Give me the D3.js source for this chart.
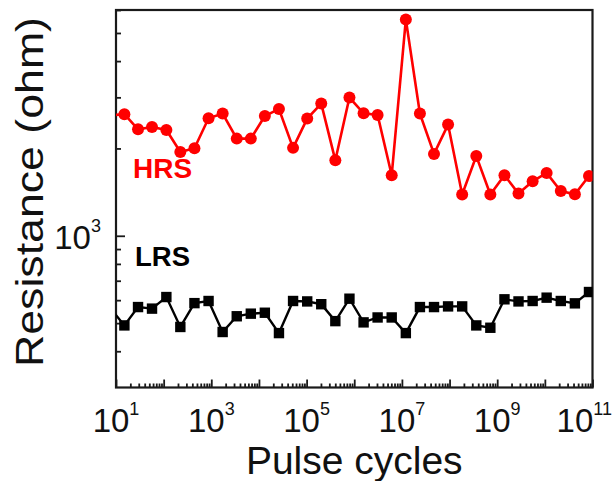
<!DOCTYPE html>
<html>
<head>
<meta charset="utf-8">
<script src="https://cdn.jsdelivr.net/npm/d3@7/dist/d3.min.js"></script>
<style>
  html, body { margin: 0; padding: 0; background: #fff; }
  svg { display: block; font-family: "Liberation Sans", Arial, sans-serif; }
</style>
</head>
<body>
<svg id="chart" width="615" height="481"></svg>
<script>
// Pulse cycle count at each measurement (log-spaced)
const pulseCycles = [7.4, 15, 29, 57, 114, 224, 443, 876, 1730, 3420, 6750,
  1.33e4, 2.63e4, 5.2e4, 1.03e5, 2.03e5, 4.01e5, 7.93e5, 1.57e6, 3.09e6, 6.11e6,
  1.21e7, 2.39e7, 4.72e7, 9.31e7, 1.84e8, 3.64e8, 7.18e8, 1.42e9, 2.8e9, 5.54e9,
  1.09e10, 2.16e10, 4.27e10, 8.44e10];

// High-resistance state (ohm)
const hrsValues = [2600, 2624, 2328, 2371, 2316, 1945, 2004, 2542, 2637, 2162, 2162,
  2587, 2736, 2009, 2535, 2855, 1820, 2995, 2644, 2610, 1617,
  5566, 2637, 1915, 2417, 1387, 1884, 1387, 1617, 1398, 1541,
  1647, 1427, 1390, 1607];

// Low-resistance state (ohm)
const lrsValues = [566, 491, 568, 561, 615, 485, 586, 596, 466, 528, 539,
  543, 462, 596, 594, 581, 508, 607, 503, 523, 523,
  462, 568, 568, 571, 571, 491, 482, 604, 594, 596,
  612, 596, 585, 640];

const xMajorTicks = [1e1, 1e2, 1e3, 1e4, 1e5, 1e6, 1e7, 1e8, 1e9, 1e10, 1e11];
const xLabelExponents = [1, 3, 5, 7, 9, 11];
const yMajorTicks = [1e3];
const yLabelExponents = [3];
const yMinorTicks = [400, 500, 600, 700, 800, 900, 2000, 3000, 4000, 5000, 6000];

const xTitle = "Pulse cycles";
const yTitle = "Resistance (ohm)";

const svg = d3.select("#chart");
const plotLeft = 116, plotRight = 592.5, plotTop = 10, plotBottom = 387.5;

const x = d3.scaleLog().domain([10, 1e11]).range([plotLeft, plotRight]);
const y = d3.scaleLog().domain([300, 6000]).range([plotBottom, plotTop]);

// Minor x ticks: 2..9 within each decade
const xMinorTicks = [];
xMajorTicks.slice(0, -1).forEach(d => {
  for (let k = 2; k <= 9; k++) xMinorTicks.push(d * k);
});

svg.append("clipPath").attr("id", "plot-clip")
  .append("rect").attr("x", plotLeft).attr("y", plotTop)
  .attr("width", plotRight - plotLeft).attr("height", plotBottom - plotTop);

const axisColor = "#1a1a1a";

// Bottom axis: ticks point into the plot
const gxMinor = svg.append("g").attr("transform", `translate(0,${plotBottom})`)
  .call(d3.axisBottom(x).tickValues(xMinorTicks).tickSize(-4).tickFormat(""));
const gx = svg.append("g").attr("transform", `translate(0,${plotBottom})`)
  .call(d3.axisBottom(x).tickValues(xMajorTicks).tickSize(-8).tickFormat(""));

// Left axis
const gyMinor = svg.append("g").attr("transform", `translate(${plotLeft},0)`)
  .call(d3.axisLeft(y).tickValues(yMinorTicks).tickSize(-5).tickFormat(""));
const gy = svg.append("g").attr("transform", `translate(${plotLeft},0)`)
  .call(d3.axisLeft(y).tickValues(yMajorTicks).tickSize(-9).tickFormat(""));

[gxMinor, gx, gyMinor, gy].forEach(g => {
  g.select(".domain").remove();
  g.selectAll(".tick line").attr("stroke", axisColor).attr("stroke-width", 1.8);
});

// Frame
svg.append("rect")
  .attr("x", plotLeft).attr("y", plotTop)
  .attr("width", plotRight - plotLeft).attr("height", plotBottom - plotTop)
  .attr("fill", "none").attr("stroke", axisColor).attr("stroke-width", 2.2);

// X tick labels as powers of ten; the last one is nudged left to stay inside the page
const xl = svg.append("g");
xLabelExponents.forEach((e, i) => {
  const last = i === xLabelExponents.length - 1;
  const t = xl.append("text")
    .attr("x", last ? 612 : x(Math.pow(10, e)))
    .attr("y", plotBottom + 44.5)
    .attr("text-anchor", last ? "end" : "middle")
    .attr("font-size", 33)
    .attr("fill", "#111");
  t.append("tspan").text("10");
  t.append("tspan").attr("dy", -17.5).attr("font-size", 18).text(String(e));
});

// Y tick labels
yLabelExponents.forEach(e => {
  const t = svg.append("text")
    .attr("x", 101)
    .attr("y", y(Math.pow(10, e)) + 13.5)
    .attr("text-anchor", "end")
    .attr("font-size", 33)
    .attr("fill", "#111");
  t.append("tspan").text("10");
  t.append("tspan").attr("dy", -17.5).attr("font-size", 18).text(String(e));
});

// Axis titles
svg.append("text")
  .attr("x", (plotLeft + plotRight) / 2)
  .attr("y", 474)
  .attr("text-anchor", "middle")
  .attr("font-size", 39)
  .attr("fill", "#111")
  .text(xTitle);

svg.append("text")
  .attr("transform", `translate(43,192) rotate(-90)`)
  .attr("text-anchor", "middle")
  .attr("font-size", 39)
  .attr("textLength", 350)
  .attr("lengthAdjust", "spacingAndGlyphs")
  .attr("fill", "#111")
  .text(yTitle);

// Series
const plot = svg.append("g").attr("clip-path", "url(#plot-clip)");
const hrs = pulseCycles.map((c, i) => ({ c, v: hrsValues[i] }));
const lrs = pulseCycles.map((c, i) => ({ c, v: lrsValues[i] }));
const line = d3.line().x(d => x(d.c)).y(d => y(d.v));

plot.append("path").datum(lrs)
  .attr("d", line).attr("fill", "none")
  .attr("stroke", "#000").attr("stroke-width", 2.4);
plot.selectAll("rect.lrs").data(lrs).join("rect")
  .attr("class", "lrs")
  .attr("x", d => x(d.c) - 5.2).attr("y", d => y(d.v) - 5.2)
  .attr("width", 10.4).attr("height", 10.4)
  .attr("fill", "#000");

plot.append("path").datum(hrs)
  .attr("d", line).attr("fill", "none")
  .attr("stroke", "#ff0000").attr("stroke-width", 2.6);
plot.selectAll("circle.hrs").data(hrs).join("circle")
  .attr("class", "hrs")
  .attr("cx", d => x(d.c)).attr("cy", d => y(d.v))
  .attr("r", 6)
  .attr("fill", "#ff0000");

// State annotations
svg.append("text")
  .attr("x", 133).attr("y", 178)
  .attr("font-size", 28).attr("font-weight", "bold")
  .attr("fill", "#ff0000")
  .text("HRS");
svg.append("text")
  .attr("x", 135).attr("y", 266)
  .attr("font-size", 27.5).attr("font-weight", "bold")
  .attr("fill", "#000")
  .text("LRS");
</script>
</body>
</html>
